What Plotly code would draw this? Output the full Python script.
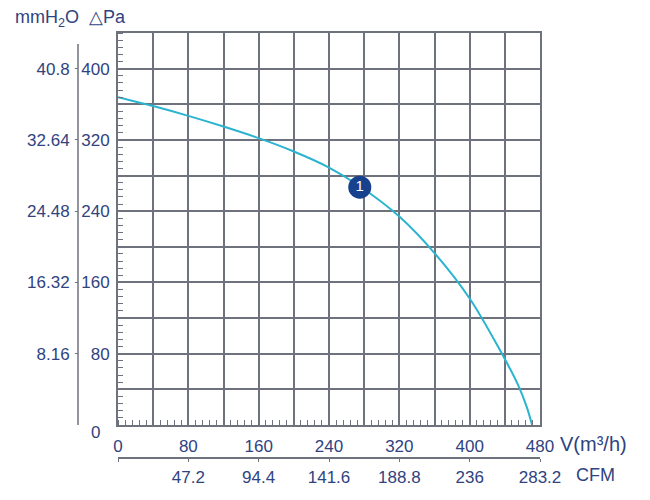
import plotly.graph_objects as go

# Data
flow_m3h = [0, 40, 80, 120, 160, 200, 240, 275, 320, 360, 400, 430, 455, 465, 471]
pressure_pa = [368, 358, 347, 335, 322, 307, 289, 268, 234, 193, 142, 92, 45, 20, 0]
point_flow = [275]
point_pa = [267]
point_label = ["1"]

x_ticks = [0, 40, 80, 120, 160, 200, 240, 280, 320, 360, 400, 440, 480]
x_text = ["0", "", "80", "", "160", "", "240", "", "320", "", "400", "", "480"]
y_ticks = [0, 40, 80, 120, 160, 200, 240, 280, 320, 360, 400, 440]
y_text = ["", "", "80", "", "160", "", "240", "", "320", "", "400", ""]
mm_ticks = [8.16, 16.32, 24.48, 32.64, 40.8]
mm_text = ["8.16", "16.32", "24.48", "32.64", "40.8"]
cfm_ticks = [0, 47.2, 94.4, 141.6, 188.8, 236, 283.2]
cfm_text = ["", "47.2", "94.4", "141.6", "188.8", "236", "283.2"]

TXT = "#2f437f"
GRID = "#6e727c"
CURVE = "#2ab4cf"
FONT = "Liberation Sans, Arial, sans-serif"

# pixel -> paper helpers (layout geometry)
L, R, T, B = 78, 110, 33, 42
W, H = 650 - L - R, 500 - T - B
def px(x):
    return (x - L) / W
def py(y):
    return (500 - B - y) / H

fig = go.Figure()
fig.add_trace(go.Scatter(x=flow_m3h, y=pressure_pa, mode="lines",
                         line=dict(color=CURVE, width=2, shape="spline", smoothing=0.8),
                         hoverinfo="skip", showlegend=False))
fig.add_trace(go.Scatter(x=point_flow, y=point_pa, mode="markers+text",
                         marker=dict(size=23, color="#17418c", line=dict(width=0)),
                         text=point_label, textposition="middle center",
                         textfont=dict(color="white", size=15, family=FONT),
                         showlegend=False))
# invisible traces to carry secondary axes
fig.add_trace(go.Scatter(x=[0], y=[0], xaxis="x2", yaxis="y", mode="markers",
                         marker=dict(opacity=0), showlegend=False, hoverinfo="skip"))
fig.add_trace(go.Scatter(x=[0], y=[0], xaxis="x", yaxis="y2", mode="markers",
                         marker=dict(opacity=0), showlegend=False, hoverinfo="skip"))

fig.update_layout(
    width=650, height=500,
    margin=dict(l=L, r=R, t=T, b=B),
    paper_bgcolor="white", plot_bgcolor="white",
    font=dict(family=FONT, color=TXT, size=17),
    xaxis=dict(domain=[px(118), 1], range=[0, 480], tickvals=x_ticks, ticktext=x_text,
               showgrid=True, gridcolor=GRID, gridwidth=1.6, showline=True, mirror=True,
               linecolor=GRID, linewidth=1.8, ticks="", zeroline=False,
               ticklabelstandoff=5,
               minor=dict(dtick=8, tick0=0, ticks="inside", ticklen=5, tickcolor=GRID,
                          tickwidth=1, showgrid=False)),
    yaxis=dict(domain=[py(425), 1], range=[0, 440], tickvals=y_ticks, ticktext=y_text,
               showgrid=True, gridcolor=GRID, gridwidth=1.6, showline=True, mirror=True,
               linecolor=GRID, linewidth=1.8, ticks="", zeroline=False,
               ticklabelstandoff=3,
               minor=dict(dtick=8, tick0=0, ticks="inside", ticklen=5, tickcolor=GRID,
                          tickwidth=1, showgrid=False)),
    xaxis2=dict(overlaying="x", anchor="free", position=0, side="bottom",
                range=[0, 283.2], tickvals=cfm_ticks, ticktext=cfm_text,
                showgrid=False, zeroline=False, showline=True, linecolor=GRID, linewidth=1.5,
                ticks="outside", ticklen=3, tickcolor=GRID, ticklabelstandoff=1),
    yaxis2=dict(overlaying="y", anchor="free", position=0, side="left",
                range=[0, 44.88], tickvals=mm_ticks, ticktext=mm_text,
                showgrid=False, zeroline=False, showline=False,
                ticks="outside", ticklen=3, tickcolor=GRID, ticklabelstandoff=2),
)

# mmH2O axis line (shorter than the plot height)
fig.add_shape(type="line", xref="paper", yref="paper", x0=0, x1=0, y0=py(425), y1=py(44),
              line=dict(color=GRID, width=1.5))

ann = [
    dict(text="mmH<sub>2</sub>O  △Pa", x=px(13), y=py(19), xanchor="left", size=18),
    dict(text="V(m³/h)", x=px(558), y=py(444), xanchor="left", size=20),
    dict(text="CFM", x=px(574), y=py(475), xanchor="left", size=18),
    dict(text="0", x=px(95), y=py(432), xanchor="center", size=17),
]
for a in ann:
    fig.add_annotation(text=a["text"], x=a["x"], y=a["y"], xref="paper", yref="paper",
                       xanchor=a["xanchor"], yanchor="middle", showarrow=False,
                       font=dict(size=a["size"], color=TXT, family=FONT))

fig.write_html("out.html")
